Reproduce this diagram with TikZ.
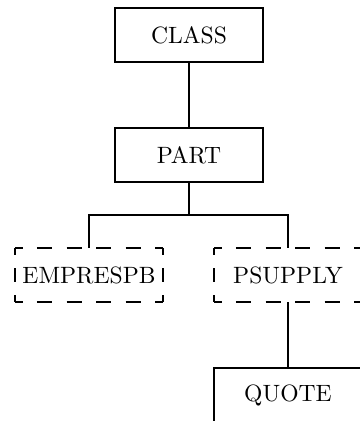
\documentclass[tikz,border=0pt]{standalone}
\begin{document}
\begin{tikzpicture}[x=0.4237pt,y=-0.4237pt,
  line width=0.85pt,
  box/.style={draw,rectangle,minimum width=62.7pt,minimum height=22.9pt,inner sep=0pt,font=\normalsize},
  dbox/.style={rectangle,minimum width=62.7pt,minimum height=22.9pt,inner sep=0pt,outer sep=0pt,font=\normalsize},
  hdash/.style={dash pattern=on 6.5pt off 6.04pt,dash phase=3.25pt},
  vdash/.style={dash pattern=on 5.72pt off 5.73pt,dash phase=2.86pt},
  link/.style={draw}]
\useasboundingbox (0,0) rectangle (359,421);
\node[box]  (class) at (189,35)  {CLASS};
\node[box]  (part)  at (189,155) {PART};
\node[dbox] (emp)   at (89,275)  {EMPRESPB};
\node[dbox] (psu)   at (288,275) {PSUPPLY};
\node[box]  (quote) at (288,395) {QUOTE};
\foreach \n in {emp,psu}{
  \draw[hdash] (\n.north west) -- (\n.north east);
  \draw[hdash] (\n.south west) -- (\n.south east);
  \draw[vdash] (\n.north west) -- (\n.south west);
  \draw[vdash] (\n.north east) -- (\n.south east);
}
\coordinate (fork) at (189,215);
\draw[link] (class.south) -- (part.north);
\draw[link] (part.south) -- (fork);
\draw[link] (emp.north) |- (fork) -| (psu.north);
\draw[link] (psu.south) -- (quote.north);
\end{tikzpicture}
\end{document}
